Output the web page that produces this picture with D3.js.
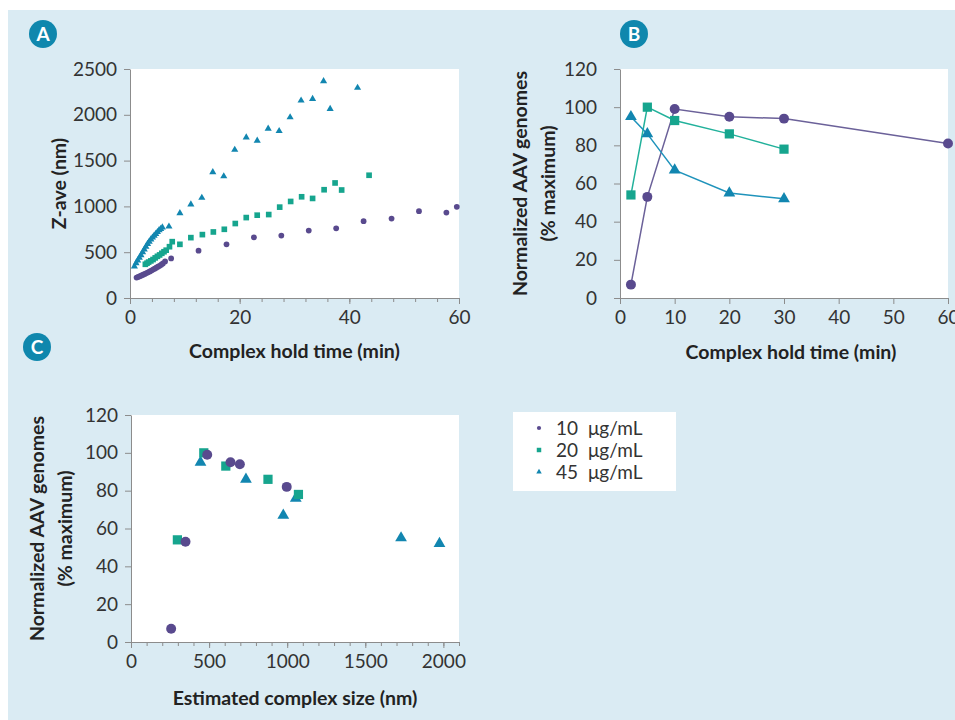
<!DOCTYPE html>
<meta charset="UTF-8">
<style>
  body { margin: 0; background: #fff; }
  text { font-family: Lato, "Open Sans", sans-serif; fill: #333; }
  .tick text { font-size: 19px; }
  .domain, .tick line { stroke: #8c8c8c; }
  .title { font-size: 19.5px; font-weight: bold; fill: #222; }
</style>
<body>
<script src="https://d3js.org/d3.v7.min.js"></script>
<script>

// ---- data ----
// panel A: complex hold time (min) vs Z-ave (nm)
var holdA10 = [[1.2,223],[1.5,230],[1.8,238],[2.1,246],[2.4,255],[2.7,263],[3.0,272],[3.3,281],[3.6,290],[3.9,300],
               [4.2,310],[4.5,320],[4.8,331],[5.1,342],[5.4,352],[5.7,364],[6.0,378],[6.4,399],
               [7.5,432],[12.5,516],[17.6,586],[22.6,662],[27.6,681],[32.6,736],[37.6,761],[42.6,838],
               [47.7,867],[52.7,948],[57.7,933],[59.6,996]];
var holdA20 = [[2.8,368],[3.1,380],[3.4,392],[3.8,405],[4.2,420],[4.6,438],[5.0,455],[5.4,470],[5.8,488],
               [6.2,505],[6.6,522],[7.2,560],[7.7,615],
               [9.1,586],[11.1,659],[13.2,692],[15.2,721],[17.2,750],[19.2,813],[21.2,878],[23.2,904],
               [25.3,911],[27.3,992],[29.3,1054],[31.3,1105],[33.3,1087],[35.4,1182],[37.4,1256],[38.6,1179],[43.6,1340]];
var holdA45 = [[0.8,345],[1.1,380],[1.4,410],[1.7,440],[2.0,468],[2.3,500],[2.6,530],[2.9,560],[3.2,590],
               [3.5,615],[3.8,640],[4.1,660],[4.4,680],[4.7,700],[5.0,720],[5.3,740],[5.6,755],[5.9,770],
               [7.1,780],[9.1,926],[11.1,1021],[13.1,1094],[15.1,1373],[17.1,1329],[19.1,1618],[21.2,1753],
               [23.2,1717],[25.2,1848],[27.2,1823],[29.2,1973],[31.2,2156],[33.3,2174],[35.3,2368],[36.5,2064],[41.5,2295]];

// panel B: hold time (min) vs normalized AAV genomes (%)
var timeB10 = [2, 5, 10, 20, 30, 60];
var genB10  = [7, 53, 99, 95, 94, 81];
var timeB20 = [2, 5, 10, 20, 30];
var genB20  = [54, 100, 93, 86, 78];
var timeB45 = [2, 5, 10, 20, 30];
var genB45  = [95, 86, 67, 55, 52];

// panel C: estimated complex size (nm) vs normalized AAV genomes (%)
var sizeC10 = [257, 349, 488, 637, 697, 997];
var genC10  = [7, 53, 99, 95, 94, 82];
var sizeC20 = [297, 466, 607, 877, 1072];
var genC20  = [54, 100, 93, 86, 78];
var sizeC45 = [445, 736, 975, 1055, 1729, 1975];
var genC45  = [95, 86, 67, 76, 55, 52];

var seriesNames = ["10 μg/mL", "20 μg/mL", "45 μg/mL"];
var colors = ["#594a8e", "#16a58e", "#1286b0"];
var lineColors = ["#6b6199", "#22b19b", "#1f93bb"];
var shapes = [d3.symbolCircle, d3.symbolSquare, d3.symbolTriangle];

var svg = d3.select("body").append("svg")
    .attr("width", 955)
    .attr("height", 720);

// light blue panel background
svg.append("rect")
    .attr("x", 8).attr("y", 10)
    .attr("width", 947).attr("height", 710)
    .attr("fill", "#daebf3");

function zip(a, b) { return a.map(function(v, i) { return [v, b[i]]; }); }

// draws one panel, returns the scales
function panel(opt) {
  var x = d3.scaleLinear().domain(opt.xDomain).range([opt.left, opt.right]);
  var y = d3.scaleLinear().domain(opt.yDomain).range([opt.bottom, opt.top]);

  svg.append("rect")
      .attr("x", opt.left).attr("y", opt.top)
      .attr("width", opt.right - opt.left).attr("height", opt.bottom - opt.top)
      .attr("fill", "#fff");

  // minor x ticks (no labels)
  if (opt.xMinor) {
    svg.append("g")
        .attr("transform", "translate(0," + opt.bottom + ")")
        .call(d3.axisBottom(x).tickValues(opt.xMinor).tickSize(4).tickFormat(""))
        .call(function(g) { g.select(".domain").remove(); });
  }
  svg.append("g")
      .attr("transform", "translate(0," + opt.bottom + ")")
      .call(d3.axisBottom(x).tickValues(opt.xTicks).tickSize(6).tickSizeOuter(0)
            .tickPadding(7).tickFormat(d3.format("d")));

  svg.append("g")
      .attr("transform", "translate(" + opt.left + ",0)")
      .call(d3.axisLeft(y).tickValues(opt.yTicks).tickSize(6).tickSizeOuter(0)
            .tickPadding(opt.yPad).tickFormat(d3.format("d")));

  svg.append("text")
      .attr("class", "title")
      .attr("x", (opt.left + opt.right) / 2 + (opt.xTitleDx || 0))
      .attr("y", opt.bottom + opt.xTitleDy)
      .attr("text-anchor", "middle")
      .text(opt.xTitle);

  var yt = svg.append("text")
      .attr("class", "title")
      .attr("text-anchor", "middle")
      .attr("transform", "translate(" + opt.yTitleX + "," + (opt.top + opt.bottom) / 2 + ") rotate(-90)");
  opt.yTitle.forEach(function(line, i) {
    yt.append("tspan").attr("x", 0).attr("dy", i ? 28 : 0).text(line);
  });

  // panel badge
  svg.append("circle")
      .attr("cx", opt.badge[0]).attr("cy", opt.badge[1]).attr("r", 14)
      .attr("fill", "#0f87ad");
  svg.append("text")
      .attr("x", opt.badge[0]).attr("y", opt.badge[1] + 6.5)
      .attr("text-anchor", "middle")
      .style("font-size", "19px").style("font-weight", "bold").style("fill", "#fff")
      .text(opt.letter);

  return {x: x, y: y};
}

function points(sc, data, k, area) {
  svg.append("g").selectAll("path")
      .data(data)
    .enter().append("path")
      .attr("transform", function(d) { return "translate(" + sc.x(d[0]) + "," + sc.y(d[1]) + ")"; })
      .attr("d", d3.symbol().type(shapes[k]).size(area[k]))
      .attr("fill", colors[k]);
}

// ---- panel A ----
var a = panel({
  left: 130, right: 459, top: 69, bottom: 298,
  xDomain: [0, 60], yDomain: [0, 2500],
  xTicks: [0, 20, 40, 60], xMinor: d3.range(0, 61, 4),
  yTicks: [0, 500, 1000, 1500, 2000, 2500], yPad: 7,
  xTitle: "Complex hold time (min)", xTitleDy: 60,
  yTitle: ["Z-ave (nm)"], yTitleX: 66,
  badge: [43, 34], letter: "A"
});
var smallArea = [26, 32, 22];
points(a, holdA10, 0, smallArea);
points(a, holdA20, 1, smallArea);
points(a, holdA45, 2, smallArea);

// ---- panel B ----
var b = panel({
  left: 620, right: 948, top: 69, bottom: 298,
  xDomain: [0, 60], yDomain: [0, 120],
  xTicks: d3.range(0, 61, 10),
  yTicks: d3.range(0, 121, 20), yPad: 17,
  xTitle: "Complex hold time (min)", xTitleDy: 61, xTitleDx: 7,
  yTitle: ["Normalized AAV genomes", "(% maximum)"], yTitleX: 527,
  badge: [634, 34], letter: "B"
});
var bigArea = [78, 85, 60];
var line = d3.line().x(function(d) { return b.x(d[0]); }).y(function(d) { return b.y(d[1]); });
[zip(timeB10, genB10), zip(timeB20, genB20), zip(timeB45, genB45)].forEach(function(s, k) {
  svg.append("path").datum(s)
      .attr("d", line)
      .attr("fill", "none")
      .attr("stroke", lineColors[k])
      .attr("stroke-width", 1.5);
});
points(b, zip(timeB10, genB10), 0, bigArea);
points(b, zip(timeB20, genB20), 1, bigArea);
points(b, zip(timeB45, genB45), 2, bigArea);

// ---- panel C ----
var c = panel({
  left: 131, right: 459, top: 415, bottom: 642,
  xDomain: [0, 2100], yDomain: [0, 120],
  xTicks: [0, 500, 1000, 1500, 2000], xMinor: d3.range(0, 2101, 100),
  yTicks: d3.range(0, 121, 20), yPad: 7,
  xTitle: "Estimated complex size (nm)", xTitleDy: 63,
  yTitle: ["Normalized AAV genomes", "(% maximum)"], yTitleX: 44,
  badge: [37, 347], letter: "C"
});
points(c, zip(sizeC45, genC45), 2, bigArea);
points(c, zip(sizeC20, genC20), 1, bigArea);
points(c, zip(sizeC10, genC10), 0, bigArea);

// ---- legend ----
var lg = svg.append("g").attr("transform", "translate(513,412)");
lg.append("rect").attr("width", 163).attr("height", 79).attr("fill", "#fff");
seriesNames.forEach(function(name, k) {
  var row = lg.append("g").attr("transform", "translate(26," + (16 + k * 22) + ")");
  row.append("path")
      .attr("d", d3.symbol().type(shapes[k]).size([14, 20, 13][k]))
      .attr("fill", colors[k]);
  var parts = name.split(" ");
  row.append("text").attr("x", 17).attr("y", 6.5).style("font-size", "19px").text(parts[0]);
  row.append("text").attr("x", 49).attr("y", 6.5).style("font-size", "19px").text(parts[1]);
});

</script>
</body>
